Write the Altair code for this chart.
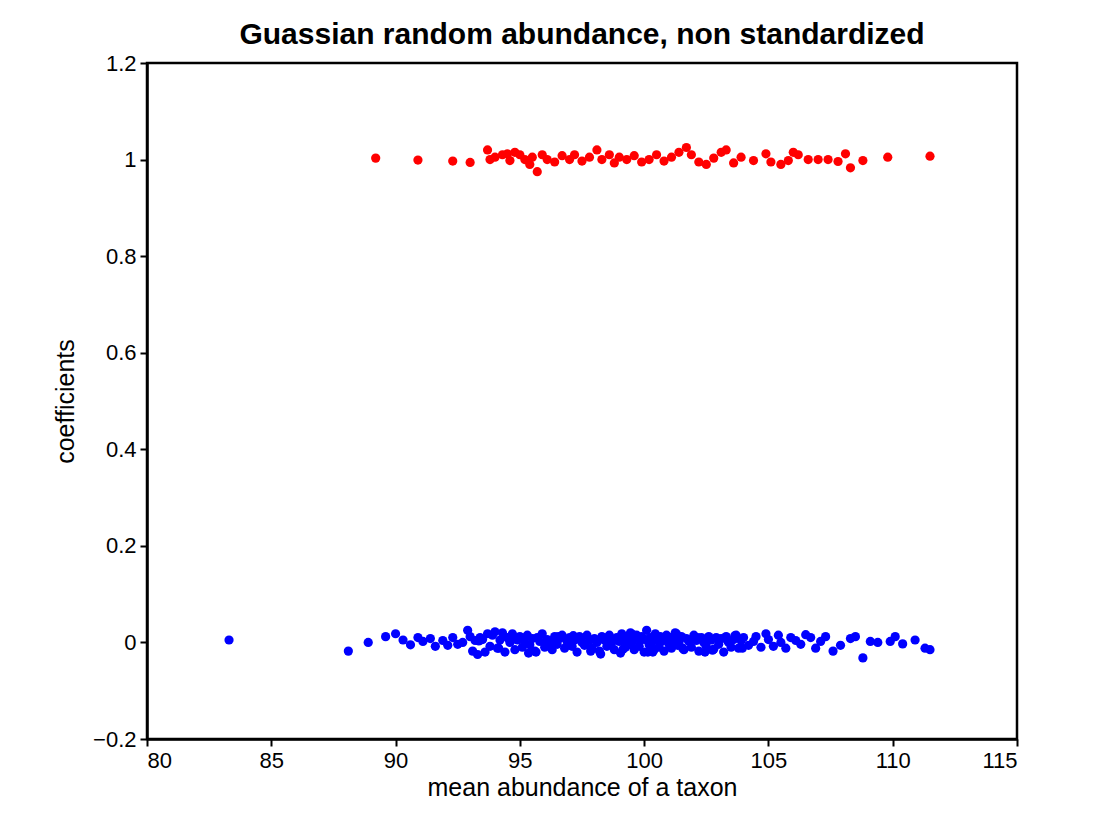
import altair as alt
import pandas as pd

red_x = [89.2, 90.9, 92.3, 93.0, 93.7, 93.8, 94.0, 94.3, 94.5, 94.6, 94.8, 95.0, 95.2, 95.4, 95.5,
         95.7, 95.9, 96.1, 96.4, 96.7, 97.0, 97.2, 97.5, 97.8, 98.1, 98.3, 98.6, 98.8, 99.0, 99.3,
         99.6, 99.9, 100.2, 100.5, 100.8, 101.1, 101.4, 101.7, 101.9, 102.2, 102.5, 102.8, 103.1,
         103.3, 103.6, 103.9, 104.4, 104.9, 105.1, 105.5, 105.8, 106.0, 106.2, 106.6, 107.0, 107.4,
         107.8, 108.1, 108.3, 108.8, 109.8, 111.5]
red_y = [1.003, 0.999, 0.997, 0.994, 1.02, 1.0, 1.005, 1.01, 1.012, 0.998, 1.015, 1.01, 1.0, 0.99, 1.005,
         0.975, 1.01, 1.0, 0.995, 1.008, 1.0, 1.01, 0.997, 1.005, 1.02, 1.0, 1.01, 0.993, 1.005, 1.0,
         1.008, 0.995, 1.0, 1.01, 0.997, 1.005, 1.015, 1.025, 1.01, 0.995, 0.99, 1.003, 1.015,
         1.02, 0.993, 1.005, 0.998, 1.012, 0.995, 0.99, 0.998, 1.015, 1.01, 1.0, 1.0, 1.0,
         0.996, 1.012, 0.983, 0.998, 1.005, 1.007]

blue_x = [83.3, 88.1, 88.9, 89.6, 90.0, 90.3, 90.6, 90.9, 91.1, 91.4, 91.6, 91.9, 92.1, 92.3, 92.5,
          92.7, 92.9, 93.0, 93.1, 93.2, 93.3, 93.4, 93.5, 93.6, 93.7, 93.8, 93.9, 94.0, 94.1, 94.2,
          94.3, 94.4, 94.5, 94.6, 94.7, 94.8, 94.9, 95.0, 95.1, 95.2, 95.3, 95.4, 95.5, 95.6, 95.7,
          95.8, 95.9, 96.0, 96.1, 96.2, 96.3, 96.4, 96.5, 96.6, 96.7, 96.8, 96.9, 97.0, 97.1, 97.2,
          97.3, 97.4, 97.5, 97.6, 97.7, 97.8, 97.9, 98.0, 98.1, 98.2, 98.3, 98.4, 98.5, 98.6, 98.7,
          98.8, 98.9, 99.0, 99.05, 99.1, 99.2, 99.25, 99.3, 99.4, 99.45, 99.5, 99.6, 99.65, 99.7, 99.8,
          99.85, 99.9, 100.0, 100.05, 100.1, 100.2, 100.25, 100.3, 100.4, 100.45, 100.5, 100.6, 100.65,
          100.7, 100.8, 100.85, 100.9, 101.0, 101.05, 101.1, 101.2, 101.3, 101.35, 101.4, 101.5, 101.6,
          101.7, 101.8, 101.9, 102.0, 102.1, 102.2, 102.3, 102.4, 102.5, 102.6, 102.7, 102.8, 102.9,
          103.0, 103.1, 103.2, 103.3, 103.4, 103.5, 103.6, 103.7, 103.8, 103.9, 104.0, 104.2, 104.4,
          104.5, 104.7, 104.9, 105.0, 105.2, 105.4, 105.5, 105.7, 105.9, 106.1, 106.3, 106.5, 106.7,
          106.9, 107.1, 107.3, 107.6, 107.9, 108.3, 108.5, 108.8, 109.1, 109.4, 109.9, 110.1, 110.4,
          110.9, 111.3, 111.5,
          93.35, 94.15, 94.85, 95.65, 96.35, 97.15, 97.85, 98.55, 99.15, 99.75, 100.35, 100.95,
          101.55, 102.15, 102.75, 103.35, 103.95, 94.55, 95.35, 96.55, 98.25, 99.55, 100.15,
          101.25, 102.45, 103.65]
blue_y = [0.005, -0.018, 0.0, 0.012, 0.018, 0.005, -0.005, 0.01, 0.002, 0.008, -0.008, 0.004, -0.006,
          0.01, -0.004, 0.0, 0.025, 0.012, -0.018, 0.004, -0.025, 0.01, 0.006, -0.02, 0.018, -0.008,
          0.015, 0.022, -0.012, 0.005, 0.02, -0.02, 0.01, 0.0, 0.018, -0.015, 0.005, 0.012, -0.01,
          0.0, 0.015, -0.005, 0.008, -0.018, 0.01, 0.002, 0.018, -0.01, 0.006, 0.0, -0.015, 0.012,
          -0.004, 0.008, 0.015, -0.012, 0.002, 0.01, -0.008, 0.005, -0.02, 0.012, 0.0, -0.006, 0.015,
          0.004, -0.012, 0.008, 0.0, -0.018, 0.012, 0.005, -0.008, 0.015, 0.0, -0.015, 0.01, 0.002,
          -0.022, 0.018, 0.006, -0.01, 0.012, -0.004, 0.02, 0.0, -0.015, 0.008, 0.015, -0.008, 0.004,
          0.012, -0.02, 0.006, 0.025, -0.005, 0.01, 0.0, -0.015, 0.018, 0.004, -0.01, 0.012, 0.002,
          -0.018, 0.008, 0.015, -0.004, 0.01, -0.012, 0.005, 0.018, -0.006, 0.0, 0.012, -0.015, 0.008,
          0.002, -0.01, 0.015, 0.004, -0.018, 0.01, 0.0, -0.008, 0.012, 0.005, -0.014, 0.01, -0.004,
          0.008, -0.02, 0.012, 0.0, -0.01, 0.006, 0.015, -0.012, 0.004, 0.01, -0.006, 0.002, 0.012,
          -0.01, 0.018, 0.006, -0.008, 0.015, 0.0, -0.012, 0.01, 0.004, -0.004, 0.016, 0.01, -0.012,
          0.002, 0.012, -0.018, -0.006, 0.008, 0.012, -0.032, 0.002, 0.0, 0.002, 0.012, -0.003, 0.005,
          -0.012, -0.015, 0.003,
          -0.012, 0.008, -0.02, 0.0, 0.014, -0.018, 0.006, -0.014, 0.01, -0.02, 0.006, -0.012,
          0.01, -0.016, 0.004, -0.012, 0.008, -0.022, 0.012, -0.024, 0.016, -0.02, 0.02,
          -0.02, 0.014, -0.016]

blue = list(zip(blue_x, blue_y))
red = list(zip(red_x, red_y))

df = pd.concat([
    pd.DataFrame(red, columns=["x", "y"]).assign(g="red"),
    pd.DataFrame(blue, columns=["x", "y"]).assign(g="blue"),
])

chart = alt.Chart(df).mark_circle(size=85, opacity=1).encode(
    x=alt.X("x:Q", title="mean abundance of a taxon",
            scale=alt.Scale(domain=[80, 115], nice=False),
            axis=alt.Axis(values=[80, 85, 90, 95, 100, 105, 110, 115], grid=False)),
    y=alt.Y("y:Q", title="coefficients",
            scale=alt.Scale(domain=[-0.2, 1.2], nice=False),
            axis=alt.Axis(values=[-0.2, 0, 0.2, 0.4, 0.6, 0.8, 1, 1.2], grid=False,
                          labelExpr="datum.value == 0 ? '0' : datum.value == 1 ? '1' : format(datum.value, '.1f')")),
    color=alt.Color("g:N", scale=alt.Scale(domain=["red", "blue"], range=["#ff0000", "#0000ff"]),
                    legend=None),
).properties(
    width=870, height=676,
    title=alt.TitleParams("Guassian random abundance, non standardized", fontSize=30,
                          fontWeight="bold", font="Liberation Sans", color="black", offset=2),
    autosize=alt.AutoSizeParams(type="none"),
    padding={"left": 139, "top": 55, "right": 95, "bottom": 93},
).configure_view(
    stroke="black", strokeWidth=2.5
).configure_axis(
    labelFont="Liberation Sans", titleFont="Liberation Sans", labelFontSize=22, titleFontSize=25,
    titleFontWeight="normal", labelColor="black", titleColor="black", domainColor="black",
    domainWidth=2.5, tickColor="black", tickWidth=2, tickSize=7, labelPadding=4,
).configure_axisX(titlePadding=4).configure_axisY(titlePadding=14)

chart.save("out.html", embed_options={"renderer": "svg", "actions": False})
